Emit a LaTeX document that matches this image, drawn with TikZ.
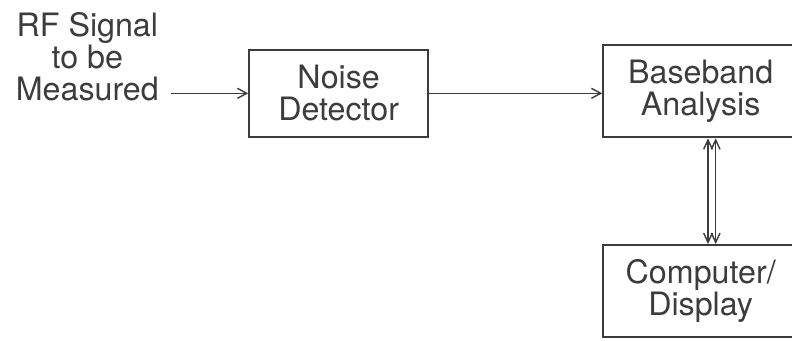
\documentclass[tikz,border=0pt]{standalone}
\usepackage{fontspec}
\setmainfont{TeX Gyre Heros}
\usetikzlibrary{arrows.meta, positioning, calc}
\definecolor{ink}{HTML}{3C3C3C}

\begin{document}
\begin{tikzpicture}[
    every node/.style={font=\fontsize{27.5}{27.5}\selectfont, text=ink},
    block/.style={rectangle, draw=ink, line width=1.6pt, align=center, inner sep=0pt},
    flow/.style={-{Straight Barb[length=2.8mm, width=3mm, line width=1.2pt]}, line width=1.2pt, color=ink},
    link/.style={{Straight Barb[length=2.8mm, width=2.6mm, line width=1.2pt]}-{Straight Barb[length=2.8mm, width=2.6mm, line width=1.2pt]}, line width=1.3pt, color=ink}
]
\useasboundingbox (0,0) rectangle (23.76,-10.23);

% Input label
\node[align=center] (rf) at (2.62,-1.70) {RF Signal\\to be\\Measured};

% Blocks
\node[block, minimum width=5.37cm, minimum height=2.61cm] (nd) at (10.16,-2.80) {Noise\\Detector};
\node[block, minimum width=5.85cm, minimum height=2.76cm] (bb) at (21.02,-2.74) {Baseband\\Analysis};
\node[block, minimum width=5.85cm, minimum height=2.76cm] (cd) at (21.02,-8.73) {Computer/\\Display};

% Flows
\draw[flow] ($(rf.east |- nd.west)+(0.25,0)$) -- (nd.west);
\draw[flow] (nd.east) -- (bb.west |- nd.east);
\draw[link] ($(bb.south)+(0.22,0)$) -- ($(cd.north)+(0.22,0)$);
\draw[link] ($(bb.south)+(0.45,0)$) -- ($(cd.north)+(0.45,0)$);
\end{tikzpicture}
\end{document}
